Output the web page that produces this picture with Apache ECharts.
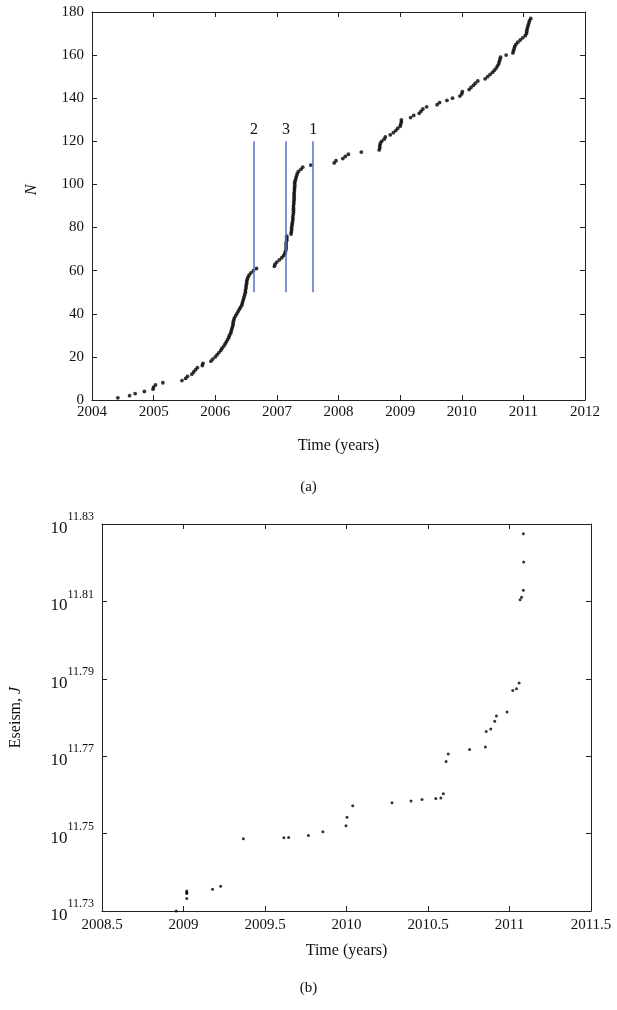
<!DOCTYPE html>
<html>
<head>
<meta charset="utf-8">
<script src="https://cdn.jsdelivr.net/npm/echarts@6/dist/echarts.min.js"></script>
<style>
  html, body { margin: 0; padding: 0; background: #fff; }
  #chart { width: 617px; height: 1010px; }
</style>
</head>
<body>
<div id="chart"></div>
<script>
// panel (a): cumulative number of events N vs time
const countPoints = [
  [2004.42, 1], [2004.61, 2], [2004.70, 3], [2004.85, 4], [2004.99, 5], [2005.00, 6],
  [2005.03, 7], [2005.15, 8], [2005.46, 9], [2005.52, 10], [2005.55, 11], [2005.62, 12],
  [2005.65, 13], [2005.68, 14], [2005.71, 15], [2005.79, 16], [2005.80, 17], [2005.93, 18],
  [2005.96, 19], [2006.00, 20], [2006.03, 21], [2006.06, 22], [2006.09, 23], [2006.11, 24],
  [2006.14, 25], [2006.16, 26], [2006.18, 27], [2006.20, 28], [2006.22, 29], [2006.23, 30],
  [2006.25, 31], [2006.26, 32], [2006.27, 33], [2006.28, 34], [2006.29, 35], [2006.29, 36],
  [2006.30, 37], [2006.31, 38], [2006.33, 39], [2006.35, 40], [2006.37, 41], [2006.39, 42],
  [2006.41, 43], [2006.43, 44], [2006.44, 45], [2006.45, 46], [2006.46, 47], [2006.47, 48],
  [2006.48, 49], [2006.49, 50], [2006.49, 51], [2006.50, 52], [2006.50, 53], [2006.51, 54],
  [2006.51, 55], [2006.52, 56], [2006.53, 57], [2006.55, 58], [2006.58, 59], [2006.62, 60],
  [2006.67, 61],
  [2006.96, 62], [2006.97, 63], [2007.00, 64], [2007.04, 65], [2007.08, 66], [2007.11, 67],
  [2007.13, 68], [2007.14, 69], [2007.15, 70], [2007.15, 71], [2007.15, 72], [2007.15, 73],
  [2007.16, 74], [2007.16, 75], [2007.16, 76],
  [2007.23, 77], [2007.235, 78], [2007.24, 79], [2007.24, 80], [2007.245, 81], [2007.25, 82],
  [2007.255, 83], [2007.26, 84], [2007.26, 85], [2007.265, 86], [2007.27, 87], [2007.27, 88],
  [2007.27, 89], [2007.27, 90], [2007.275, 91], [2007.275, 92], [2007.28, 93], [2007.28, 94],
  [2007.28, 95], [2007.28, 96], [2007.285, 97], [2007.285, 98], [2007.29, 99], [2007.29, 100],
  [2007.29, 101], [2007.30, 102], [2007.31, 103], [2007.32, 104], [2007.33, 105], [2007.35, 106],
  [2007.39, 107], [2007.42, 108], [2007.55, 109],
  [2007.93, 110], [2007.96, 111], [2008.07, 112], [2008.11, 113], [2008.16, 114], [2008.37, 115],
  [2008.66, 116], [2008.67, 117], [2008.67, 118], [2008.68, 119], [2008.70, 120], [2008.74, 121],
  [2008.76, 122], [2008.84, 123], [2008.89, 124], [2008.93, 125], [2008.96, 126], [2009.00, 127],
  [2009.01, 128], [2009.02, 129], [2009.02, 130],
  [2009.17, 131], [2009.22, 132], [2009.31, 133], [2009.34, 134], [2009.37, 135], [2009.43, 136],
  [2009.60, 137], [2009.64, 138], [2009.76, 139], [2009.85, 140], [2009.97, 141], [2010.00, 142],
  [2010.01, 143], [2010.12, 144], [2010.15, 145], [2010.19, 146], [2010.22, 147], [2010.26, 148],
  [2010.38, 149], [2010.42, 150], [2010.46, 151], [2010.50, 152], [2010.53, 153], [2010.56, 154],
  [2010.58, 155], [2010.60, 156], [2010.61, 157], [2010.62, 158], [2010.63, 159], [2010.72, 160],
  [2010.83, 161], [2010.84, 162], [2010.85, 163], [2010.86, 164], [2010.88, 165], [2010.91, 166],
  [2010.95, 167], [2010.99, 168], [2011.03, 169], [2011.05, 170], [2011.055, 171], [2011.06, 172],
  [2011.07, 173], [2011.08, 174], [2011.09, 175], [2011.10, 176], [2011.12, 177]
]

// marker lines in panel (a)
const markerTimes = [2006.63, 2007.15, 2007.59]
const markerNames = ['2', '3', '1']
const markerFrom = 50
const markerTo = 120

// panel (b): seismic energy, exponent of 10 (J)
const energyPoints = [
  [2008.955, 11.7300], [2009.02, 11.7332], [2009.02, 11.7345], [2009.02, 11.7348],
  [2009.02, 11.7352], [2009.178, 11.7356], [2009.228, 11.7364], [2009.367, 11.7487],
  [2009.616, 11.7489], [2009.645, 11.7490], [2009.766, 11.7495], [2009.855, 11.7505],
  [2009.997, 11.7520], [2010.003, 11.7542], [2010.038, 11.7572], [2010.279, 11.7580],
  [2010.396, 11.7584], [2010.463, 11.7588], [2010.548, 11.7591], [2010.579, 11.7592],
  [2010.594, 11.7603], [2010.611, 11.7686], [2010.624, 11.7706], [2010.755, 11.7717],
  [2010.852, 11.7724], [2010.857, 11.7764], [2010.885, 11.7770], [2010.909, 11.7790],
  [2010.920, 11.7804], [2010.985, 11.7814], [2011.020, 11.7870], [2011.043, 11.7874],
  [2011.059, 11.7889], [2011.065, 11.8104], [2011.074, 11.8111], [2011.085, 11.8129],
  [2011.087, 11.8202], [2011.085, 11.8275]
]

const serif = '"Liberation Serif", "DejaVu Serif", serif'
const axisColor = '#222'
const lineBlue = '#5572bd'

const chart = echarts.init(document.getElementById('chart'))

// 坐标框：四边都画，刻度朝内
function frameAxis(extra) {
  return Object.assign({
    type: 'value',
    axisLine: { show: true, onZero: false, lineStyle: { color: axisColor, width: 1 } },
    axisTick: { show: true, inside: true, length: 5, lineStyle: { color: axisColor } },
    splitLine: { show: false },
    axisLabel: { show: false },
  }, extra)
}

const tickFont = { fontFamily: serif, fontSize: 15, color: '#111', formatter: v => String(v) }

chart.setOption({
  animation: false,
  backgroundColor: '#fff',
  grid: [
    { left: 92, right: 32, top: 12, height: 388 },
    { left: 100, right: 26, top: 524, height: 387 },
  ],
  xAxis: [
    frameAxis({
      gridIndex: 0, min: 2004, max: 2012, interval: 1, position: 'bottom',
      axisLabel: Object.assign({ show: true, margin: 5 }, tickFont),
      name: 'Time (years)', nameLocation: 'middle', nameGap: 38,
      nameTextStyle: { fontFamily: serif, fontSize: 16, color: '#111' },
    }),
    frameAxis({ gridIndex: 0, min: 2004, max: 2012, interval: 1, position: 'top' }),
    frameAxis({
      gridIndex: 1, min: 2008.5, max: 2011.5, interval: 0.5, position: 'bottom',
      axisLabel: Object.assign({ show: true, margin: 7 }, tickFont),
      name: 'Time (years)', nameLocation: 'middle', nameGap: 32,
      nameTextStyle: { fontFamily: serif, fontSize: 16, color: '#111' },
    }),
    frameAxis({ gridIndex: 1, min: 2008.5, max: 2011.5, interval: 0.5, position: 'top' }),
  ],
  yAxis: [
    frameAxis({
      gridIndex: 0, min: 0, max: 180, interval: 20, position: 'left',
      axisLabel: Object.assign({ show: true, margin: 8 }, tickFont),
      name: 'N', nameLocation: 'middle', nameGap: 52, nameRotate: 90,
      nameTextStyle: { fontFamily: serif, fontSize: 16, fontStyle: 'italic', color: '#111', padding: [0, 0, 0, 32] },
    }),
    frameAxis({ gridIndex: 0, min: 0, max: 180, interval: 20, position: 'right' }),
    frameAxis({
      gridIndex: 1, min: 11.73, max: 11.83, interval: 0.02, position: 'left',
      axisLabel: {
        show: true, margin: 8,
        formatter: v => '{b|10}{s|' + v.toFixed(2) + '}',
        rich: {
          b: { fontFamily: serif, fontSize: 17, color: '#111', lineHeight: 26, verticalAlign: 'bottom' },
          s: { fontFamily: serif, fontSize: 12, color: '#111', lineHeight: 12, verticalAlign: 'top' },
        },
      },
      name: 'Eseism, {i|J}', nameLocation: 'middle', nameGap: 78, nameRotate: 90,
      nameTextStyle: {
        fontFamily: serif, fontSize: 16, color: '#111',
        rich: { i: { fontFamily: serif, fontSize: 16, fontStyle: 'italic', color: '#111' } },
      },
    }),
    frameAxis({ gridIndex: 1, min: 11.73, max: 11.83, interval: 0.02, position: 'right' }),
  ],
  series: [
    {
      type: 'scatter',
      xAxisIndex: 0, yAxisIndex: 0,
      data: countPoints,
      symbolSize: 3.8,
      itemStyle: { color: '#000' },
      markLine: {
        silent: true,
        symbol: ['none', 'none'],
        lineStyle: { color: lineBlue, width: 1.5, type: 'solid' },
        label: {
          show: true, position: 'end', distance: 4,
          fontFamily: serif, fontSize: 16, color: '#111',
          formatter: p => p.name,
        },
        data: markerTimes.map((t, i) => [
          { name: markerNames[i], coord: [t, markerFrom] },
          { coord: [t, markerTo] },
        ]),
      },
    },
    {
      type: 'scatter',
      xAxisIndex: 2, yAxisIndex: 2,
      data: energyPoints,
      symbolSize: 3,
      itemStyle: { color: '#000' },
    },
  ],
  graphic: [
    { type: 'text', left: 'center', top: 480, style: { text: '(a)', font: '15px ' + serif, fill: '#111' } },
    { type: 'text', left: 'center', top: 981, style: { text: '(b)', font: '15px ' + serif, fill: '#111' } },
  ],
})
</script>
</body>
</html>
